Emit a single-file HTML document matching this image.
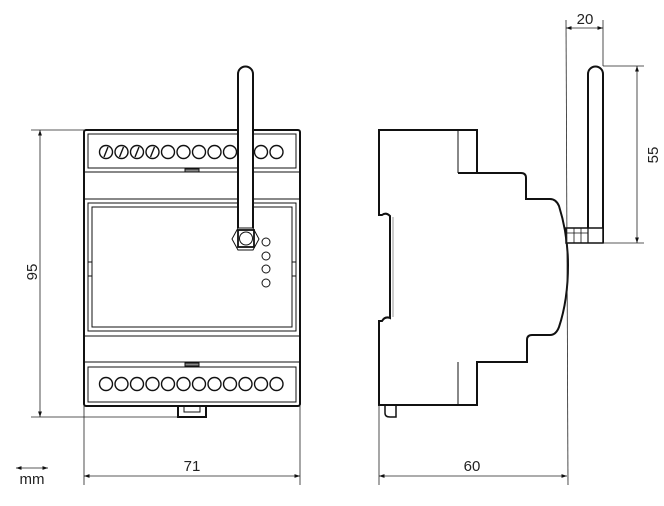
<!DOCTYPE html>
<html><head><meta charset="utf-8"><style>
html,body{margin:0;padding:0;background:#fff;}
svg{display:block;}
text{font-family:"Liberation Sans",sans-serif;font-size:15px;fill:#222;}
</style></head><body>
<svg width="664" height="506" viewBox="0 0 664 506" xmlns="http://www.w3.org/2000/svg">
<defs>
<marker id="a" viewBox="0 0 10 10" refX="10" refY="5" markerWidth="7" markerHeight="7" orient="auto-start-reverse"><path d="M0,1.5 L10,5 L0,8.5 z" fill="#111"/></marker>
</defs>
<g fill="none" stroke="#111">
<rect x="84" y="130" width="216" height="276" rx="2" stroke-width="2"/>
<rect x="88" y="134" width="208" height="34" stroke-width="1"/>
<line x1="84" y1="172" x2="300" y2="172" stroke-width="1"/>
<line x1="84" y1="199" x2="300" y2="199" stroke-width="1"/>
<rect x="88" y="203" width="208" height="128" stroke-width="1"/>
<rect x="92" y="207" width="200" height="120" stroke-width="1"/>
<line x1="84" y1="336" x2="300" y2="336" stroke-width="1"/>
<line x1="84" y1="362" x2="300" y2="362" stroke-width="1"/>
<rect x="88" y="367" width="208" height="35" stroke-width="1"/>
<rect x="185" y="169" width="14" height="3" stroke-width="1" fill="#888"/>
<rect x="185" y="363" width="14" height="3" stroke-width="1" fill="#888"/>
<rect x="88" y="262" width="4" height="14" stroke-width="1"/>
<rect x="292" y="262" width="4" height="14" stroke-width="1"/>
<path d="M178,406 V417 H206 V406" stroke-width="2"/>
<path d="M184,406 V412 H200 V406" stroke-width="1"/>
<g stroke-width="1.4">
<circle cx="106" cy="152" r="6.5"/><circle cx="121.5" cy="152" r="6.5"/><circle cx="137" cy="152" r="6.5"/><circle cx="152.5" cy="152" r="6.5"/>
<circle cx="168" cy="152" r="6.5"/><circle cx="183.5" cy="152" r="6.5"/><circle cx="199" cy="152" r="6.5"/><circle cx="214.5" cy="152" r="6.5"/>
<circle cx="230" cy="152" r="6.5"/><circle cx="261" cy="152" r="6.5"/><circle cx="276.5" cy="152" r="6.5"/>
<line x1="104" y1="157" x2="108" y2="147"/><line x1="119.5" y1="157" x2="123.5" y2="147"/><line x1="135" y1="157" x2="139" y2="147"/><line x1="150.5" y1="157" x2="154.5" y2="147"/>
<circle cx="106" cy="384" r="6.5"/><circle cx="121.5" cy="384" r="6.5"/><circle cx="137" cy="384" r="6.5"/><circle cx="152.5" cy="384" r="6.5"/>
<circle cx="168" cy="384" r="6.5"/><circle cx="183.5" cy="384" r="6.5"/><circle cx="199" cy="384" r="6.5"/><circle cx="214.5" cy="384" r="6.5"/>
<circle cx="230" cy="384" r="6.5"/><circle cx="245.5" cy="384" r="6.5"/><circle cx="261" cy="384" r="6.5"/><circle cx="276.5" cy="384" r="6.5"/>
</g>
<path d="M238,228 V74 A7.5,7.5 0 0 1 253,74 V228" stroke-width="2" fill="#fff"/>
<polygon points="232,239 238,228 253,228 259,239 253,250 238,250" stroke-width="1" fill="#fff"/>
<rect x="238" y="230" width="16" height="17" stroke-width="1.8"/>
<circle cx="246" cy="238.5" r="6.5" stroke-width="1"/>
<g stroke-width="1"><circle cx="266" cy="242" r="4"/><circle cx="266" cy="256" r="4"/><circle cx="266" cy="269" r="4"/><circle cx="266" cy="283" r="4"/></g>
<path d="M379,130 H477 V173 H521 Q526,173 526,178 V199 H550 Q556,199 559,206 Q568,235 568,265 Q568,300 559,327 Q556,335 550,335 H532 Q527,335 527,340 V362 H477 V405 H379 V321 H382 Q385,316 390,318 V216 Q386,212 382,215 H379 Z" stroke-width="2" fill="#fff"/>
<line x1="458" y1="130" x2="458" y2="173" stroke-width="1"/>
<line x1="458" y1="173" x2="477" y2="173" stroke-width="2"/>
<line x1="458" y1="362" x2="458" y2="405" stroke-width="1"/>
<line x1="393" y1="217" x2="393" y2="317" stroke-width="1" stroke="#999"/>
<path d="M385,405 V413 Q385,417 390,417 H396 V405" stroke-width="1.5"/>
<path d="M588,228 V74 A7.5,7.5 0 0 1 603,74 V243" stroke-width="2"/>
<rect x="566" y="228" width="37" height="15" stroke-width="1.5" fill="#fff"/>
<line x1="566" y1="233" x2="588" y2="233" stroke-width="0.8"/>
<line x1="574" y1="228" x2="574" y2="243" stroke-width="0.8"/>
<line x1="581" y1="228" x2="581" y2="243" stroke-width="0.8"/>
<line x1="588" y1="228" x2="588" y2="243" stroke-width="1.2"/>
</g>
<g stroke="#222" stroke-width="0.8" fill="none">
<line x1="31" y1="130" x2="84" y2="130"/>
<line x1="31" y1="417" x2="178" y2="417"/>
<line x1="40" y1="130" x2="40" y2="417" marker-start="url(#a)" marker-end="url(#a)"/>
<line x1="84" y1="406" x2="84" y2="485"/>
<line x1="300" y1="406" x2="300" y2="485"/>
<line x1="84" y1="476" x2="300" y2="476" marker-start="url(#a)" marker-end="url(#a)"/>
<line x1="379" y1="405" x2="379" y2="485"/>
<line x1="566" y1="20" x2="568" y2="485"/>
<line x1="379" y1="476" x2="567" y2="476" marker-start="url(#a)" marker-end="url(#a)"/>
<line x1="603" y1="20" x2="603" y2="66"/>
<line x1="566" y1="28" x2="603" y2="28" marker-start="url(#a)" marker-end="url(#a)"/>
<line x1="603" y1="66" x2="644" y2="66"/>
<line x1="603" y1="243" x2="644" y2="243"/>
<line x1="637" y1="66" x2="637" y2="243" marker-start="url(#a)" marker-end="url(#a)"/>
<line x1="16" y1="468" x2="48" y2="468" marker-start="url(#a)" marker-end="url(#a)"/>
</g>
<text x="192" y="471" text-anchor="middle">71</text>
<text x="472" y="471" text-anchor="middle">60</text>
<text x="585" y="24" text-anchor="middle">20</text>
<text x="32" y="484" text-anchor="middle">mm</text>
<text transform="translate(37,272) rotate(-90)" text-anchor="middle">95</text>
<text transform="translate(658,155) rotate(-90)" text-anchor="middle">55</text>
</svg>
</body></html>
